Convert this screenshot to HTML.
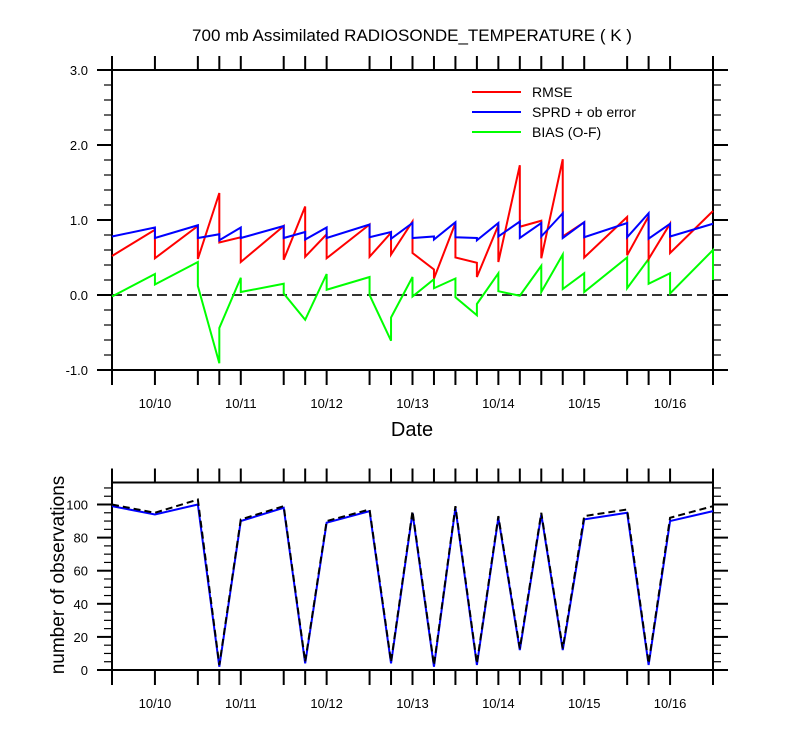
<!DOCTYPE html>
<html><head><meta charset="utf-8"><style>
html,body{margin:0;padding:0;background:#fff;}
svg{display:block;font-family:"Liberation Sans",sans-serif;}
</style></head><body>
<svg id="chart" width="800" height="750" viewBox="0 0 800 750" xmlns="http://www.w3.org/2000/svg">
<text x="412" y="41" font-size="17" text-anchor="middle">700 mb Assimilated RADIOSONDE_TEMPERATURE ( K )</text>
<g id="topPanel"></g>
<g id="botPanel"></g>
<text x="412" y="436" font-size="20" text-anchor="middle">Date</text>
<text transform="translate(64,575) rotate(-90)" font-size="19" text-anchor="middle">number of observations</text>
<g>
<line x1="472" y1="92" x2="521" y2="92" stroke="#f00" stroke-width="2"/>
<text x="532" y="97" font-size="14">RMSE</text>
<line x1="472" y1="112" x2="521" y2="112" stroke="#00f" stroke-width="2"/>
<text x="532" y="117" font-size="14">SPRD + ob error</text>
<line x1="472" y1="132" x2="521" y2="132" stroke="#0f0" stroke-width="2"/>
<text x="532" y="137" font-size="14">BIAS (O-F)</text>
</g>
</svg>
<script>
// time index in 6-hour steps from 10/09 12Z
const times = [0,2,4,5,6,8,9,10,12,13,14,15,16,17,18,19,20,21,22,24,25,26,28];
const rmseEnd   = [0.52,0.87,0.92,1.36,0.77,0.92,1.18,0.81,0.94,0.83,0.98,0.34,0.96,0.43,0.93,1.73,0.99,1.81,0.97,1.04,1.05,0.95,1.12];
const rmseStart = [0.52,0.49,0.48,0.70,0.44,0.47,0.51,0.49,0.51,0.54,0.56,0.22,0.50,0.24,0.44,0.91,0.49,0.78,0.50,0.53,0.48,0.56,1.12];
const sprdEnd   = [0.78,0.90,0.93,0.81,0.90,0.92,0.84,0.90,0.94,0.84,0.96,0.78,0.97,0.76,0.96,0.98,0.96,1.09,0.97,0.96,1.09,0.95,0.95];
const sprdStart = [0.78,0.76,0.76,0.73,0.76,0.76,0.74,0.76,0.77,0.75,0.76,0.74,0.77,0.73,0.78,0.76,0.78,0.76,0.77,0.77,0.75,0.78,0.95];
const biasEnd   = [-0.02,0.28,0.44,-0.91,0.23,0.15,-0.33,0.28,0.24,-0.61,0.24,0.21,0.22,-0.27,0.29,-0.01,0.39,0.54,0.29,0.50,0.48,0.29,0.60];
const biasStart = [-0.02,0.14,0.12,-0.44,0.04,0.02,-0.33,0.07,0.00,-0.30,-0.02,0.09,-0.03,-0.12,0.05,-0.01,0.04,0.08,0.04,0.09,0.15,0.02,0.20];
const obsAssim  = [99,94,100,2,90,98,4,89,96,4,95,2,98,3,92,12,94,12,91,95,3,90,96];
const obsTotal  = [100,95,103,3,91,99,5,90,97,5,96,3,99,4,93,13,95,13,93,97,4,92,99];
const dateLabels = ["10/10","10/11","10/12","10/13","10/14","10/15","10/16"];
const dateTimes  = [2,6,10,14,18,22,26];
const topYTicks = [-1,0,1,2,3];
const botYTicks = [0,20,40,60,80,100];

const NS="http://www.w3.org/2000/svg";
const X0=112,X1=713,TMAX=28;
const sx=t=>X0+(X1-X0)*t/TMAX;
const TY0=370,TY1=70,TMIN=-1,TMAXV=3;
const syT=v=>TY0-(TY0-TY1)*(v-TMIN)/(TMAXV-TMIN);
const BY0=670,BY1=482.5,BMAXV=113.3;
const syB=v=>BY0-(BY0-BY1)*v/BMAXV;
function mk(tag,attrs,parent){const e=document.createElementNS(NS,tag);for(const k in attrs)e.setAttribute(k,attrs[k]);parent.appendChild(e);return e;}
const topG=document.getElementById('topPanel'),botG=document.getElementById('botPanel');

function frame(g,yTop,yBot,name){
  const r=mk('rect',{x:X0,y:yTop,width:X1-X0,height:yBot-yTop,fill:'none',stroke:'#000','stroke-width':2},g);
  
  
  times.forEach(t=>{
    const x=sx(t);
    const a=mk('line',{x1:x,y1:yTop,x2:x,y2:yTop-14,stroke:'#000','stroke-width':2},g);
    
    
    const b=mk('line',{x1:x,y1:yBot,x2:x,y2:yBot+15,stroke:'#000','stroke-width':2},g);
    
    
  });
  dateLabels.forEach((d,i)=>{
    const tx=mk('text',{x:sx(dateTimes[i]),y:yBot+38,'font-size':13,'text-anchor':'middle'},g);
    tx.textContent=d;
    
    
  });
}
function yticks(g,vals,minorStep,minV,maxV,sy,fmt,name){
  for(let v=minV;v<=maxV+1e-9;v+=minorStep){
    const y=sy(v);const major=vals.some(m=>Math.abs(m-v)<1e-6);
    const len=major?15:8;
    const l=mk('line',{x1:X0,y1:y,x2:X0-len,y2:y,stroke:'#000','stroke-width':major?2:1.2},g);
    
    
    const r=mk('line',{x1:X1,y1:y,x2:X1+len,y2:y,stroke:'#000','stroke-width':major?2:1.2},g);
    
    
  }
  vals.forEach(v=>{
    const t=mk('text',{x:X0-24,y:sy(v)+5,'font-size':13,'text-anchor':'end'},g);
    t.textContent=fmt(v);
    
    
  });
}
frame(topG,TY1,TY0,'top');
yticks(topG,topYTicks,0.2,-1,3,syT,v=>v.toFixed(1),'top');
frame(botG,BY1,BY0,'bottom');
yticks(botG,botYTicks,5,0,110,syB,v=>String(v),'bottom');

const zl=mk('line',{x1:X0,y1:syT(0),x2:X1,y2:syT(0),stroke:'#333','stroke-width':2,'stroke-dasharray':'10,5'},topG);



function saw(endA,startA,color,name){
  let d='';
  times.forEach((t,i)=>{
    const x=sx(t);
    if(i===0)d+='M'+x+','+syT(startA[i]);
    else d+=' L'+x+','+syT(endA[i])+' L'+x+','+syT(startA[i]);
  });
  const p=mk('path',{d:d,fill:'none',stroke:color,'stroke-width':2,'stroke-linejoin':'miter'},topG);
  
  
}
saw(biasEnd,biasStart,'#00ff00','bias-line');
saw(rmseEnd,rmseStart,'#ff0000','rmse-line');
saw(sprdEnd,sprdStart,'#0000ff','sprd-line');

function line(vals,color,dash,name){
  const d=times.map((t,i)=>(i?'L':'M')+sx(t)+','+syB(vals[i])).join(' ');
  const p=mk('path',{d:d,fill:'none',stroke:color,'stroke-width':2},botG);
  if(dash)p.setAttribute('stroke-dasharray',dash);
  
  
}
line(obsAssim,'#0000ff',null,'obs-assimilated-line');
line(obsTotal,'#000000','7,4','obs-total-line');
</script>
</body></html>
